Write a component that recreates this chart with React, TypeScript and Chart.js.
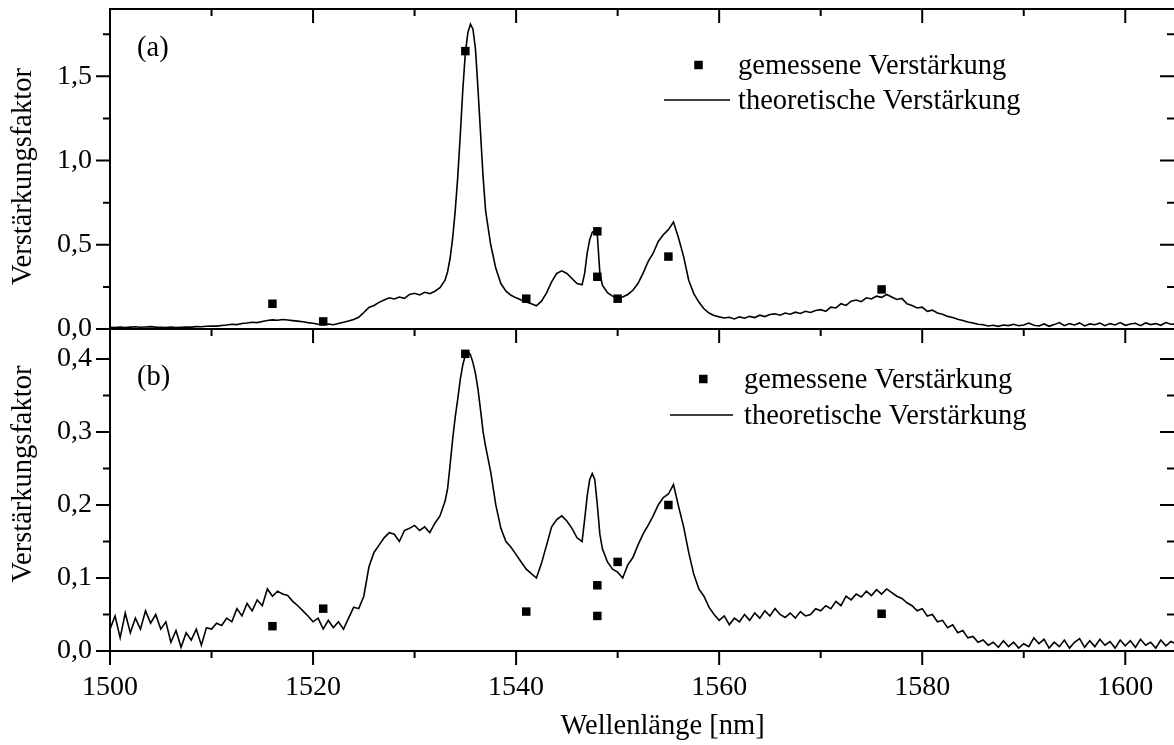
import React, { useEffect, useRef } from "react";
import { Chart, registerables } from "chart.js";

Chart.register(...registerables);

// ---------- data ----------
const wavelengths = [
  1500, 1500.5, 1501, 1501.5, 1502, 1502.5, 1503, 1503.5, 1504, 1504.5,
  1505, 1505.5, 1506, 1506.5, 1507, 1507.5, 1508, 1508.5, 1509, 1509.5,
  1510, 1510.5, 1511, 1511.5, 1512, 1512.5, 1513, 1513.5, 1514, 1514.5,
  1515, 1515.5, 1516, 1516.5, 1517, 1517.5, 1518, 1518.5, 1519, 1519.5,
  1520, 1520.5, 1521, 1521.5, 1522, 1522.5, 1523, 1523.5, 1524, 1524.5,
  1525, 1525.5, 1526, 1526.5, 1527, 1527.5, 1528, 1528.5, 1529, 1529.5,
  1530, 1530.5, 1531, 1531.5, 1532, 1532.5, 1533, 1533.25, 1533.5, 1533.75,
  1534, 1534.25, 1534.5, 1534.75, 1535, 1535.25, 1535.5, 1535.75, 1536, 1536.25,
  1536.5, 1536.75, 1537, 1537.5, 1538, 1538.5, 1539, 1539.5, 1540, 1540.5,
  1541, 1541.5, 1542, 1542.5, 1543, 1543.5, 1544, 1544.5, 1545, 1545.5,
  1546, 1546.5, 1546.75, 1547, 1547.25, 1547.5, 1547.75, 1548, 1548.25, 1548.5,
  1549, 1549.5, 1550, 1550.5, 1551, 1551.5, 1552, 1552.5, 1553, 1553.5,
  1554, 1554.5, 1555, 1555.5, 1556, 1556.5, 1557, 1557.5, 1558, 1558.5,
  1559, 1559.5, 1560, 1560.5, 1561, 1561.5, 1562, 1562.5, 1563, 1563.5,
  1564, 1564.5, 1565, 1565.5, 1566, 1566.5, 1567, 1567.5, 1568, 1568.5,
  1569, 1569.5, 1570, 1570.5, 1571, 1571.5, 1572, 1572.5, 1573, 1573.5,
  1574, 1574.5, 1575, 1575.5, 1576, 1576.5, 1577, 1577.5, 1578, 1578.5,
  1579, 1579.5, 1580, 1580.5, 1581, 1581.5, 1582, 1582.5, 1583, 1583.5,
  1584, 1584.5, 1585, 1585.5, 1586, 1586.5, 1587, 1587.5, 1588, 1588.5,
  1589, 1589.5, 1590, 1590.5, 1591, 1591.5, 1592, 1592.5, 1593, 1593.5,
  1594, 1594.5, 1595, 1595.5, 1596, 1596.5, 1597, 1597.5, 1598, 1598.5,
  1599, 1599.5, 1600, 1600.5, 1601, 1601.5, 1602, 1602.5, 1603, 1603.5,
  1604, 1604.5, 1605,
];

// (a) theoretische Verstärkung
const theoryA = [
  0.010, 0.008, 0.012, 0.009, 0.011, 0.013, 0.010, 0.012, 0.014, 0.011,
  0.010, 0.009, 0.011, 0.008, 0.010, 0.012, 0.011, 0.014, 0.013, 0.016,
  0.018, 0.017, 0.021, 0.024, 0.028, 0.026, 0.033, 0.036, 0.040, 0.038,
  0.045, 0.050, 0.054, 0.052, 0.056, 0.053, 0.050, 0.047, 0.043, 0.038,
  0.034, 0.028, 0.026, 0.030, 0.025, 0.033, 0.040, 0.048, 0.056, 0.070,
  0.098, 0.128, 0.140, 0.158, 0.172, 0.185, 0.178, 0.190, 0.182, 0.205,
  0.212, 0.202, 0.218, 0.210, 0.224, 0.245, 0.290, 0.340, 0.420, 0.540,
  0.700, 0.900, 1.150, 1.420, 1.640, 1.760, 1.810, 1.780, 1.660, 1.420,
  1.160, 0.900, 0.700, 0.500, 0.360, 0.270, 0.225, 0.200, 0.185, 0.172,
  0.160, 0.150, 0.138, 0.165, 0.215, 0.280, 0.330, 0.345, 0.330, 0.300,
  0.270, 0.262, 0.330, 0.450, 0.530, 0.575, 0.585, 0.560, 0.330, 0.260,
  0.215, 0.195, 0.180, 0.190, 0.205, 0.230, 0.270, 0.330, 0.400, 0.450,
  0.520, 0.560, 0.590, 0.635, 0.540, 0.430, 0.290, 0.210, 0.160, 0.120,
  0.095, 0.080, 0.072, 0.065, 0.070, 0.060, 0.072, 0.064, 0.075, 0.068,
  0.082, 0.074, 0.086, 0.090, 0.082, 0.095, 0.088, 0.100, 0.092, 0.105,
  0.098, 0.110, 0.115, 0.105, 0.130, 0.125, 0.150, 0.140, 0.165, 0.172,
  0.162, 0.185, 0.178, 0.195, 0.188, 0.205, 0.190, 0.175, 0.182, 0.150,
  0.140, 0.125, 0.130, 0.105, 0.112, 0.095, 0.088, 0.075, 0.068, 0.058,
  0.050, 0.042, 0.036, 0.028, 0.025, 0.018, 0.022, 0.016, 0.024, 0.020,
  0.028, 0.019, 0.024, 0.035, 0.022, 0.018, 0.030, 0.016, 0.026, 0.038,
  0.020, 0.032, 0.024, 0.036, 0.018, 0.030, 0.025, 0.035, 0.020, 0.032,
  0.024, 0.038, 0.022, 0.030, 0.034, 0.020, 0.036, 0.026, 0.032, 0.022,
  0.038, 0.028, 0.030,
];

// (b) theoretische Verstärkung
const theoryB = [
  0.030, 0.048, 0.018, 0.052, 0.025, 0.045, 0.030, 0.055, 0.038, 0.050,
  0.030, 0.040, 0.012, 0.028, 0.005, 0.025, 0.015, 0.030, 0.008, 0.032,
  0.030, 0.038, 0.035, 0.045, 0.040, 0.058, 0.048, 0.065, 0.055, 0.070,
  0.062, 0.085, 0.075, 0.082, 0.078, 0.076, 0.068, 0.062, 0.055, 0.048,
  0.040, 0.045, 0.030, 0.042, 0.032, 0.040, 0.030, 0.045, 0.060, 0.058,
  0.075, 0.115, 0.135, 0.145, 0.155, 0.162, 0.160, 0.150, 0.165, 0.168,
  0.172, 0.165, 0.170, 0.162, 0.175, 0.185, 0.205, 0.222, 0.255, 0.290,
  0.320, 0.345, 0.372, 0.392, 0.405, 0.410, 0.406, 0.395, 0.380, 0.358,
  0.330, 0.300, 0.280, 0.245, 0.200, 0.168, 0.150, 0.142, 0.132, 0.122,
  0.112, 0.106, 0.100, 0.120, 0.145, 0.170, 0.180, 0.185, 0.178, 0.168,
  0.155, 0.150, 0.180, 0.212, 0.235, 0.243, 0.235, 0.200, 0.160, 0.140,
  0.122, 0.112, 0.108, 0.100, 0.118, 0.128, 0.145, 0.160, 0.172, 0.185,
  0.200, 0.210, 0.215, 0.228, 0.198, 0.170, 0.135, 0.105, 0.085, 0.075,
  0.060, 0.050, 0.042, 0.048, 0.036, 0.045, 0.040, 0.050, 0.042, 0.052,
  0.045, 0.055, 0.048, 0.058, 0.050, 0.046, 0.052, 0.045, 0.054, 0.048,
  0.050, 0.058, 0.055, 0.062, 0.058, 0.068, 0.062, 0.075, 0.070, 0.078,
  0.074, 0.082, 0.076, 0.084, 0.078, 0.085, 0.080, 0.075, 0.072, 0.066,
  0.062, 0.055, 0.058, 0.048, 0.050, 0.040, 0.042, 0.032, 0.036, 0.025,
  0.028, 0.018, 0.020, 0.012, 0.015, 0.008, 0.012, 0.005, 0.014, 0.006,
  0.012, 0.004, 0.010, 0.006, 0.018, 0.010, 0.016, 0.004, 0.012, 0.006,
  0.015, 0.004, 0.012, 0.017, 0.005, 0.014, 0.006, 0.016, 0.008, 0.013,
  0.004, 0.015, 0.007, 0.014, 0.005, 0.016, 0.008, 0.012, 0.004, 0.015,
  0.007, 0.013, 0.010,
];

// gemessene Verstärkung
const measuredWl = [1516, 1521, 1535, 1541, 1548, 1548, 1550, 1555, 1576];
const measuredA = [0.15, 0.045, 1.65, 0.18, 0.58, 0.31, 0.18, 0.43, 0.235];
const measuredB = [0.034, 0.058, 0.407, 0.054, 0.09, 0.048, 0.122, 0.2, 0.051];

// ticks
const xMajor = [1500, 1520, 1540, 1560, 1580, 1600];
const xMinor = [1510, 1530, 1550, 1570, 1590];
const yMajorA = [0, 0.5, 1.0, 1.5];
const yMinorA = [0.25, 0.75, 1.25, 1.75];
const yMajorB = [0, 0.1, 0.2, 0.3, 0.4];
const yMinorB = [0.05, 0.15, 0.25, 0.35];

const X_MIN = 1500;
const X_MAX = 1604.8;
const Y_MAX_A = 1.9;
const Y_MAX_B = 0.441;

const legendLabels = ["gemessene Verstärkung", "theoretische Verstärkung"];
const yTitle = "Verstärkungsfaktor";
const xTitle = "Wellenlänge [nm]";
const panelLabels = ["(a)", "(b)"];

const FONT_FAMILY = '"Liberation Serif", "Times New Roman", serif';
const TICK_FONT = { family: FONT_FAMILY, size: 28 };
const TEXT_FONT = `28.5px ${FONT_FAMILY}`;

type Decor = {
  panelLabel: string;
  panelLabelY: number;
  yMajor: number[];
  yMinor: number[];
  topTicks: boolean;
  legendSquare: [number, number];
  legendTextX: number;
  legendText1Y: number;
  legendLine: [number, number, number];
  legendText2Y: number;
  yTitleY: number;
  xTitleY: number | null;
};

function makeDecorPlugin(d: Decor) {
  return {
    id: "decor",
    afterDraw(chart: any) {
      const ctx: CanvasRenderingContext2D = chart.ctx;
      const { left, right, top, bottom } = chart.chartArea;
      const xs = chart.scales.x;
      const ys = chart.scales.y;
      ctx.save();
      ctx.strokeStyle = "#000";
      ctx.fillStyle = "#000";
      ctx.lineWidth = 2;
      ctx.lineCap = "butt";

      // frame
      ctx.beginPath();
      ctx.moveTo(left - 1, top);
      ctx.lineTo(right, top);
      ctx.moveTo(left - 1, bottom);
      ctx.lineTo(right, bottom);
      ctx.moveTo(left, top);
      ctx.lineTo(left, bottom);
      ctx.stroke();

      // ticks
      ctx.beginPath();
      const seg = (x1: number, y1: number, x2: number, y2: number) => {
        ctx.moveTo(x1, y1);
        ctx.lineTo(x2, y2);
      };
      const xTick = (v: number, len: number) => {
        const px = xs.getPixelForValue(v);
        if (d.topTicks) seg(px, top, px, top + len);
        seg(px, bottom, px, bottom + len);
      };
      xMajor.forEach((v) => xTick(v, 14));
      xMinor.forEach((v) => xTick(v, 7));
      const yTick = (v: number, len: number) => {
        const py = ys.getPixelForValue(v);
        seg(left, py, left - len, py);
        seg(right, py, right - len, py);
      };
      d.yMajor.forEach((v) => yTick(v, 14));
      d.yMinor.forEach((v) => yTick(v, 7));
      ctx.stroke();

      // panel label
      ctx.font = TEXT_FONT;
      ctx.textAlign = "left";
      ctx.textBaseline = "alphabetic";
      ctx.fillText(d.panelLabel, 137, d.panelLabelY);

      // legend
      const [sx, sy] = d.legendSquare;
      ctx.fillRect(sx - 4.25, sy - 4.25, 8.5, 8.5);
      ctx.fillText(legendLabels[0], d.legendTextX, d.legendText1Y);
      ctx.lineWidth = 1.5;
      ctx.beginPath();
      ctx.moveTo(d.legendLine[0], d.legendLine[2]);
      ctx.lineTo(d.legendLine[1], d.legendLine[2]);
      ctx.stroke();
      ctx.fillText(legendLabels[1], d.legendTextX, d.legendText2Y);

      // y title
      ctx.save();
      ctx.translate(31, d.yTitleY);
      ctx.rotate(-Math.PI / 2);
      ctx.textAlign = "center";
      ctx.fillText(yTitle, 0, 0);
      ctx.restore();

      // x title
      if (d.xTitleY !== null) {
        ctx.textAlign = "center";
        ctx.fillText(xTitle, 662.5, d.xTitleY);
      }
      ctx.restore();
    },
  };
}

type PanelCfg = {
  theory: number[];
  measured: number[];
  yMax: number;
  showX: boolean;
  padBottom: number;
  decor: Decor;
};

function makeChart(canvas: HTMLCanvasElement, cfg: PanelCfg) {
  return new Chart(canvas, {
    type: "line",
    data: {
      datasets: [
        {
          label: legendLabels[0],
          data: measuredWl.map((x, i) => ({ x, y: cfg.measured[i] })),
          showLine: false,
          pointStyle: "rect",
          pointRadius: 6,
          pointBorderWidth: 0,
          pointBackgroundColor: "#000",
          backgroundColor: "#000",
          borderColor: "#000",
        },
        {
          label: legendLabels[1],
          data: wavelengths.map((x, i) => ({ x, y: cfg.theory[i] })),
          borderColor: "#000",
          borderWidth: 1.6,
          pointRadius: 0,
          tension: 0,
          fill: false,
        },
      ],
    } as any,
    options: {
      responsive: false,
      animation: false,
      events: [],
      layout: {
        autoPadding: false,
        padding: { top: 9, bottom: cfg.padBottom, left: 0, right: 0 },
      },
      plugins: {
        legend: { display: false },
        tooltip: { enabled: false },
        title: { display: false },
      },
      scales: {
        x: {
          type: "linear",
          min: X_MIN,
          max: X_MAX,
          display: cfg.showX,
          position: "bottom",
          grid: { display: false, drawTicks: true, tickLength: 20 },
          border: { display: false },
          ticks: {
            font: TICK_FONT,
            color: "#000",
            padding: 0,
            autoSkip: false,
            maxRotation: 0,
            minRotation: 0,
            callback: (v: any) => String(v),
          },
          afterBuildTicks: (s: any) => {
            s.ticks = xMajor.map((v) => ({ value: v }));
          },
          afterFit: (s: any) => {
            if (cfg.showX) s.height = 94;
            s.paddingLeft = 0;
            s.paddingRight = 0;
          },
        },
        y: {
          type: "linear",
          min: 0,
          max: cfg.yMax,
          position: "left",
          grid: { display: false, drawTicks: true, tickLength: 18 },
          border: { display: false },
          ticks: {
            font: TICK_FONT,
            color: "#000",
            padding: 0,
            callback: (v: any) => Number(v).toFixed(1).replace(".", ","),
          },
          afterBuildTicks: (s: any) => {
            s.ticks = cfg.decor.yMajor.map((v) => ({ value: v }));
          },
          afterFit: (s: any) => {
            s.width = 110;
            s.paddingTop = 0;
            s.paddingBottom = 0;
          },
        },
      },
    } as any,
    plugins: [makeDecorPlugin(cfg.decor)],
  });
}

export default function App() {
  const topRef = useRef<HTMLCanvasElement>(null);
  const botRef = useRef<HTMLCanvasElement>(null);

  useEffect(() => {
    const top = makeChart(topRef.current!, {
      theory: theoryA,
      measured: measuredA,
      yMax: Y_MAX_A,
      showX: false,
      padBottom: 16,
      decor: {
        panelLabel: panelLabels[0],
        panelLabelY: 56,
        yMajor: yMajorA,
        yMinor: yMinorA,
        topTicks: true,
        legendSquare: [698.5, 65],
        legendTextX: 738,
        legendText1Y: 73.5,
        legendLine: [664, 730, 100],
        legendText2Y: 108.5,
        yTitleY: 176.5,
        xTitleY: null,
      },
    });
    const bottom = makeChart(botRef.current!, {
      theory: theoryB,
      measured: measuredB,
      yMax: Y_MAX_B,
      showX: true,
      padBottom: 0,
      decor: {
        panelLabel: panelLabels[1],
        panelLabelY: 65,
        yMajor: yMajorB,
        yMinor: yMinorB,
        topTicks: false,
        legendSquare: [703.3, 59],
        legendTextX: 744,
        legendText1Y: 67.5,
        legendLine: [670, 733, 95],
        legendText2Y: 103.5,
        yTitleY: 154,
        xTitleY: 414,
      },
    });
    return () => {
      top.destroy();
      bottom.destroy();
    };
  }, []);

  return (
    <div
      style={{
        position: "absolute",
        left: 0,
        top: 0,
        width: 1174,
        height: 745,
        overflow: "hidden",
        background: "#fff",
      }}
    >
      <canvas
        ref={topRef}
        width={1174}
        height={345}
        style={{ position: "absolute", left: 0, top: 0 }}
      />
      <canvas
        ref={botRef}
        width={1174}
        height={425}
        style={{ position: "absolute", left: 0, top: 320 }}
      />
    </div>
  );
}
